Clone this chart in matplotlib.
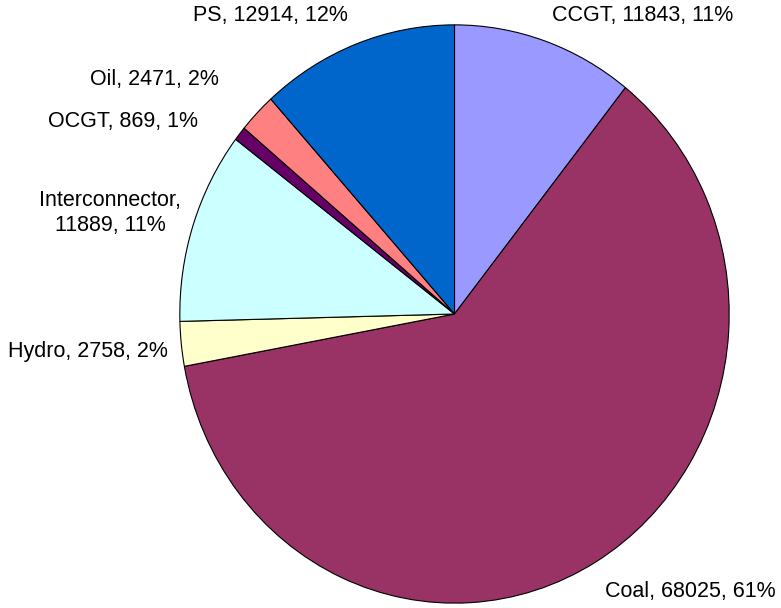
import matplotlib.pyplot as plt

plt.rcParams["font.family"] = ["Liberation Sans", "DejaVu Sans"]

labels = ["CCGT", "Coal", "Hydro", "Interconnector", "OCGT", "Oil", "PS"]
values = [11843, 68025, 2758, 11889, 869, 2471, 12914]
colors = ["#9999FF", "#993366", "#FFFFCC", "#CCFFFF", "#660066", "#FF8080", "#0066CC"]

W, H = 781, 608
fig = plt.figure(figsize=(W / 100, H / 100), dpi=100)

# pie box in pixels: left 179, right 730, top 24, bottom 604
ax = fig.add_axes([179 / W, (H - 604) / H, 551 / W, 580 / H])
ax.pie(values, colors=colors, startangle=90, counterclock=False,
       wedgeprops=dict(edgecolor="black", linewidth=0.8))
ax.set_xlim(-1.003, 1.003)
ax.set_ylim(-1.003, 1.003)
ax.set_aspect("auto")
ax.axis("off")

total = sum(values)
texts = [f"{n}, {v}, {round(v / total * 100)}%" for n, v in zip(labels, values)]
texts[3] = f"{labels[3]},\n{values[3]}, {round(values[3] / total * 100)}%"

# label anchors in pixels (x, y, ha)
anchors = [(552, 15, "left"), (605, 592, "left"), (168, 352, "right"),
           (110, 213, "center"), (198, 122, "right"), (219, 80, "right"),
           (348, 15, "right")]
for t, (x, y, ha) in zip(texts, anchors):
    fig.text(x / W, 1 - y / H, t, ha=ha, va="center", fontsize=15.5,
             linespacing=1.25)

fig.savefig("out.png", dpi=100)
